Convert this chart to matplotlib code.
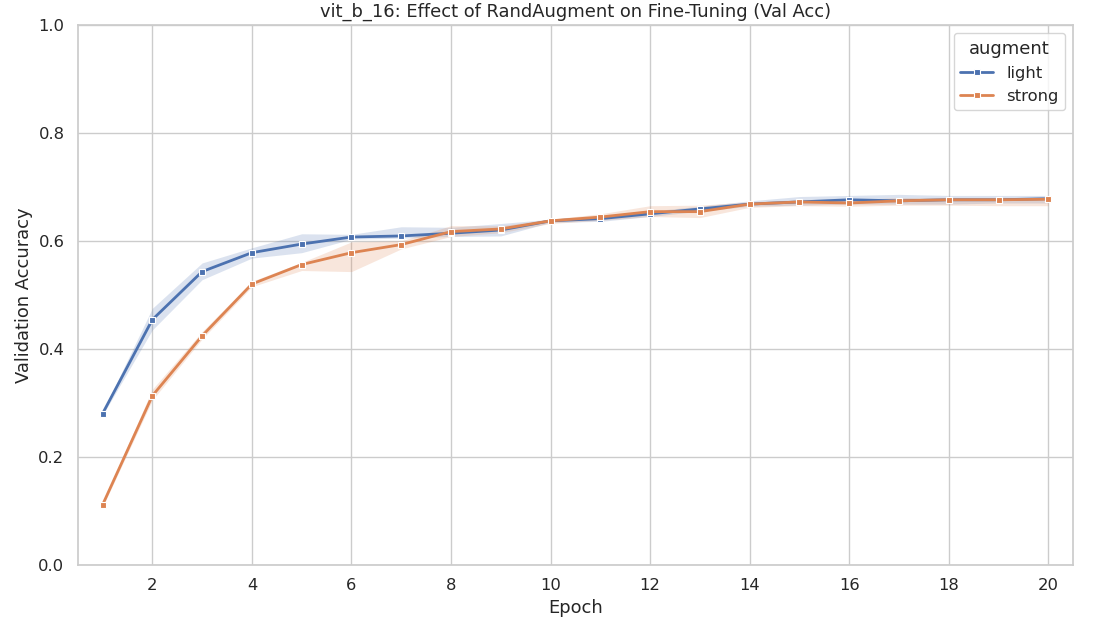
import numpy as np
import matplotlib
matplotlib.use("Agg")
import matplotlib.pyplot as plt
import seaborn as sns

epochs = np.arange(1, 21)

light_mean = [0.280, 0.454, 0.543, 0.578, 0.594, 0.607, 0.609, 0.614, 0.620, 0.637,
              0.641, 0.650, 0.659, 0.668, 0.672, 0.676, 0.674, 0.676, 0.676, 0.678]
light_lo = [0.277, 0.435, 0.528, 0.568, 0.578, 0.603, 0.605, 0.608, 0.609, 0.634,
            0.636, 0.645, 0.655, 0.664, 0.666, 0.668, 0.668, 0.668, 0.670, 0.670]
light_hi = [0.283, 0.475, 0.559, 0.587, 0.613, 0.612, 0.626, 0.625, 0.632, 0.640,
            0.646, 0.655, 0.664, 0.674, 0.682, 0.684, 0.686, 0.684, 0.684, 0.684]

strong_mean = [0.111, 0.313, 0.424, 0.520, 0.556, 0.578, 0.593, 0.617, 0.622, 0.637,
               0.644, 0.654, 0.654, 0.668, 0.672, 0.670, 0.674, 0.676, 0.676, 0.677]
strong_lo = [0.107, 0.305, 0.418, 0.515, 0.545, 0.543, 0.585, 0.608, 0.615, 0.632,
             0.638, 0.645, 0.643, 0.662, 0.665, 0.664, 0.666, 0.666, 0.665, 0.665]
strong_hi = [0.115, 0.325, 0.432, 0.525, 0.560, 0.598, 0.600, 0.628, 0.628, 0.640,
             0.650, 0.665, 0.666, 0.672, 0.676, 0.676, 0.680, 0.680, 0.680, 0.680]

sns.set_theme(style="whitegrid", font_scale=1.07)
colors = sns.color_palette("deep")

fig, ax = plt.subplots(figsize=(10.94, 6.2), dpi=100)
series = [("light", light_mean, light_lo, light_hi, colors[0]),
          ("strong", strong_mean, strong_lo, strong_hi, colors[1])]
for name, m, lo, hi, c in series:
    ax.fill_between(epochs, lo, hi, color=c, alpha=0.2, linewidth=0)
    ax.plot(epochs, m, color=c, lw=2, marker="s", ms=5, mec="white", mew=0.8,
            label=name)

ax.set_xlim(0.5, 20.5)
ax.set_ylim(0, 1)
ax.set_xticks(range(2, 21, 2))
ax.set_xlabel("Epoch")
ax.set_ylabel("Validation Accuracy")
ax.set_title("vit_b_16: Effect of RandAugment on Fine-Tuning (Val Acc)")
ax.legend(title="augment", loc="upper right")
fig.subplots_adjust(left=0.071, right=0.981, top=0.96, bottom=0.089)
fig.savefig("out.png", dpi=100)
